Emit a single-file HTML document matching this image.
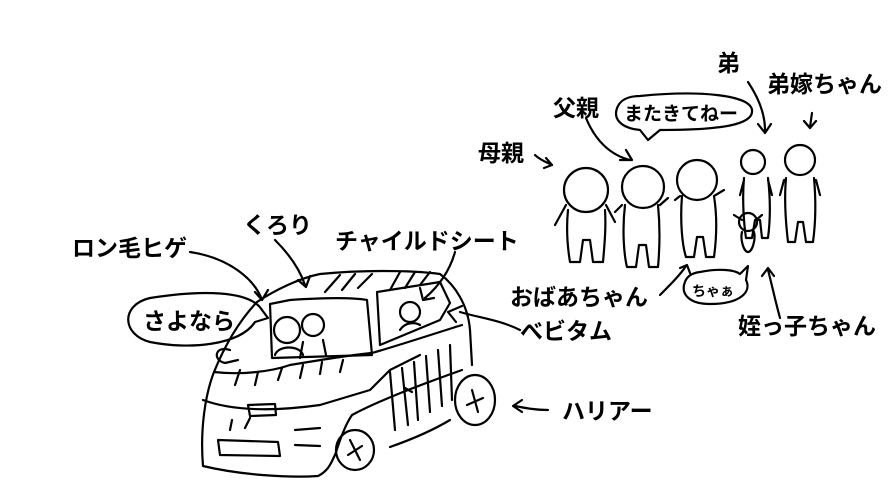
<!DOCTYPE html>
<html><head><meta charset="utf-8"><style>
html,body{margin:0;padding:0;background:#fff;}
svg{display:block}
text{font-family:"Liberation Sans","Noto Sans CJK JP",sans-serif;font-weight:bold;fill:#000}
</style></head><body>
<svg width="890" height="501" viewBox="0 0 890 501" xmlns="http://www.w3.org/2000/svg">
<g fill="none" stroke="#000" stroke-width="2.2" stroke-linecap="round" stroke-linejoin="round">
<path d="M262,310 C250,290 200,290 150,298 C120,305 122,335 150,342 C190,350 240,345 255,322 L268,318 Z"/>
<path d="M640,96 C700,90 750,95 752,110 C754,125 720,130 660,130 L648,140 L640,130 C620,128 612,118 618,106 C622,98 632,96 640,96 Z"/>
<path d="M700,272 C720,268 735,270 740,274 L748,266 L746,280 C752,292 740,304 710,304 C690,304 682,295 684,285 C686,276 692,273 700,272 Z"/>
<path d="M190,252 C230,258 255,280 262,300 M255,292 L262,300 L268,290"/>
<path d="M275,240 C290,255 300,270 305,285 M298,280 L306,287 L310,276"/>
<path d="M455,252 C450,270 440,285 425,298 M420,288 L423,300 L434,298"/>
<path d="M586,118 C595,140 610,155 630,160 M620,160 L632,160 L626,150"/>
<path d="M535,155 C540,160 548,163 552,165 M546,158 L552,165 L544,168"/>
<path d="M748,82 C760,100 765,115 765,130 M758,124 L765,133 L771,124"/>
<path d="M812,113 L810,127 M804,121 L810,128 L816,121"/>
<path d="M660,295 C670,285 680,275 686,266 M680,268 L687,265 L690,273"/>
<path d="M780,318 C775,300 772,285 768,270 M762,276 L768,268 L774,276"/>
<path d="M520,330 C500,320 480,318 460,312 M456,322 L448,312 L462,306"/>
<path d="M548,410 C535,410 525,408 515,406 M522,400 L513,406 L522,412"/>
<!-- car -->
<path d="M257,302 C275,290 300,278 320,274 C360,270 410,270 440,274 C455,285 468,305 470,330 L472,365"/>
<path d="M257,302 C240,320 225,345 214,372 C205,395 200,430 203,466 C240,475 290,478 318,476 C330,470 332,460 335,455"/>
<path d="M214,372 C240,375 270,372 290,365 C320,360 350,355 372,353 C400,345 430,335 462,325"/>
<path d="M270,304 L290,300 C320,298 350,297 367,300 L372,355 L272,358 Z"/>
<path d="M377,292 L440,282 L450,303 L440,320 L380,345 Z"/>
<path d="M203,400 C230,410 270,412 320,405 L370,390 L390,370 L420,355"/>
<path d="M218,440 L278,442 L280,456 L220,455 Z"/>
<path d="M248,405 L275,404 L276,415 L250,416 Z"/>
<path d="M335,455 C340,440 345,425 352,415 C380,400 420,385 462,370"/>
<path d="M390,447 C410,440 430,432 450,420"/>
<ellipse cx="355" cy="450" rx="19" ry="20"/>
<path d="M350,440 L360,460 M348,455 L362,446"/>
<ellipse cx="475" cy="400" rx="20" ry="25"/>
<path d="M472,390 L478,412 M467,405 L483,398"/>
<path d="M230,350 C215,345 212,360 225,363 L238,360"/>
<path d="M390,372 L395,430 M402,368 L408,425 M414,362 L418,420 M426,356 L430,412 M438,350 L442,406 M450,345 L452,400 M405,388 L412,392 M390,290 L400,272 M405,288 L415,272 M420,285 L430,272 M325,292 L340,275 M342,290 L355,274 M358,288 L372,274 M235,385 L240,370 M255,385 L258,372 M278,380 L282,368 M300,378 L303,365 M320,374 L322,362 M340,372 L343,360 M230,430 L232,420 M245,428 L250,418 M295,430 L320,428 M295,445 L320,446"/>
<circle cx="287" cy="330" r="13"/><path d="M275,355 C278,345 300,345 303,355"/>
<circle cx="313" cy="325" r="11"/><path d="M303,342 L300,358 M323,340 L326,355"/>
<circle cx="410" cy="312" r="10"/><path d="M400,330 C405,322 415,322 420,325"/>
<!-- family -->
<circle cx="586" cy="190" r="22"/>
<path d="M568,210 C566,230 568,250 570,262 L580,262 L583,240 L590,240 L593,262 L603,262 C605,240 606,225 605,210 M566,205 L555,225 M606,205 L615,222"/>
<circle cx="643" cy="187" r="21"/>
<path d="M625,205 C622,230 624,255 627,267 L636,267 L639,245 L646,245 L649,267 L658,267 C660,245 660,225 658,205 M622,205 L615,212 M660,205 L668,198"/>
<circle cx="697" cy="180" r="20"/>
<path d="M682,196 C680,220 682,245 686,257 L694,257 L697,237 L703,237 L706,257 L714,257 C717,235 717,215 714,196 M680,196 L675,200 M714,196 L724,190"/>
<circle cx="753" cy="162" r="12"/>
<path d="M744,178 C742,200 744,225 746,238 L752,238 L755,220 L760,220 L762,238 L768,238 C771,215 770,195 768,178 M744,180 L740,195 M768,180 L772,195"/>
<circle cx="800" cy="160" r="15"/>
<path d="M786,178 C784,200 786,225 788,242 L795,242 L798,222 L803,222 L806,242 L813,242 C816,220 816,200 814,178 M784,180 L780,195 M816,180 L820,195"/>
<circle cx="748" cy="222" r="9"/><path d="M742,232 C740,240 744,252 748,252 C752,252 756,240 754,232 M734,215 L742,220 M762,215 L756,220"/>
</g>
<text x="72" y="256" font-size="23">ロン毛ヒゲ</text>
<text x="243" y="233" font-size="23">くろり</text>
<text x="335" y="249" font-size="23">チャイルドシート</text>
<text x="143" y="329" font-size="23">さよなら</text>
<text x="553" y="116" font-size="23">父親</text>
<text x="478" y="161" font-size="23">母親</text>
<text x="624" y="120" font-size="19">またきてねー</text>
<text x="717" y="71" font-size="23">弟</text>
<text x="767" y="92" font-size="23">弟嫁ちゃん</text>
<text x="510" y="305" font-size="23">おばあちゃん</text>
<text x="692" y="296" font-size="14">ちゃぁ</text>
<text x="520" y="339" font-size="23">べビタム</text>
<text x="738" y="334" font-size="23">姪っ子ちゃん</text>
<text x="562" y="419" font-size="23">ハリアー</text>
</svg>
</body></html>
